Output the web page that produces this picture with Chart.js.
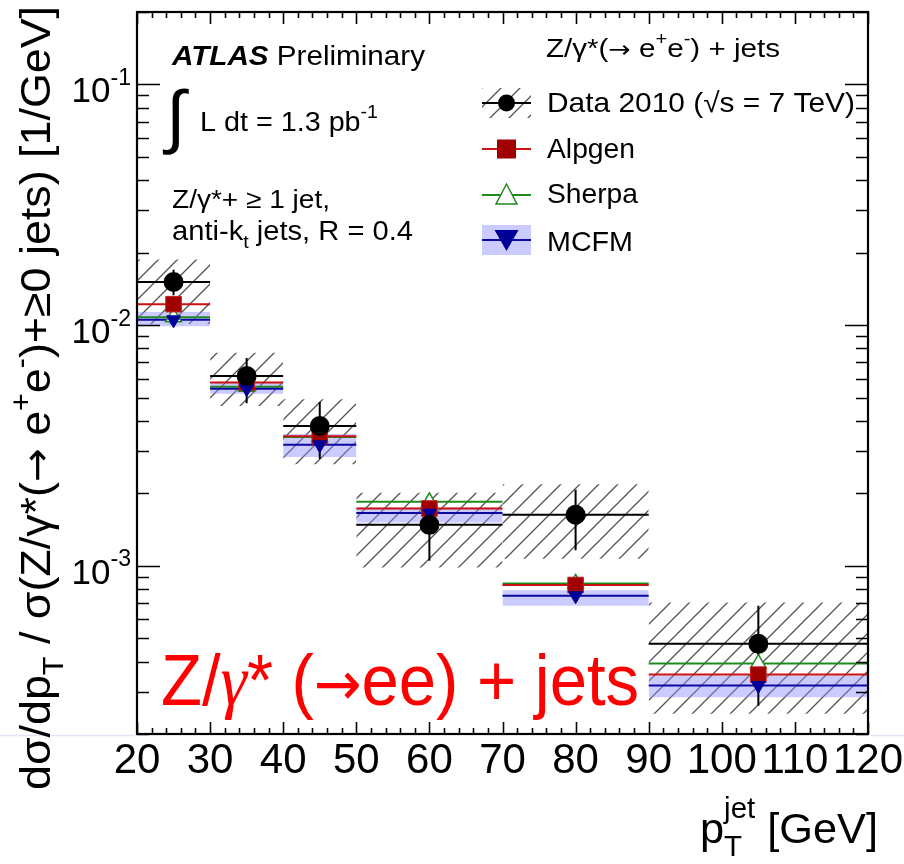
<!DOCTYPE html>
<html><head><meta charset="utf-8">
<script src="https://cdn.jsdelivr.net/npm/chart.js@4.4.1/dist/chart.umd.min.js"></script>
<style>html,body{margin:0;padding:0;background:#fff;}canvas{display:block;}</style>
</head><body>
<canvas id="c" width="904" height="864" style="width:904px;height:864px"></canvas>
<script>
// ---------------- data ----------------
const binLo     = [20, 30, 40, 50, 70, 90];
const binHi     = [30, 40, 50, 70, 90, 120];
const binCenter = [25, 35, 45, 60, 80, 105];

const dataVal    = [0.0151, 0.00614, 0.00381, 0.00148, 0.00163, 0.000474];
const dataStatLo = [0.0133, 0.00474, 0.00278, 0.00105, 0.00116, 0.000262];
const dataStatHi = [0.0170, 0.00730, 0.00479, 0.00199, 0.00207, 0.000683];
const dataSysLo  = [0.0101, 0.00461, 0.00264, 0.000984, 0.00107, 0.000243];
const dataSysHi  = [0.01875, 0.00767, 0.00492, 0.00201, 0.00218, 0.000704];

const alpgenVal = [0.01222, 0.00577, 0.00345, 0.00173, 0.000832, 0.000353];
const sherpaVal = [0.01079, 0.00555, 0.00343, 0.001845, 0.000845, 0.000393];
const mcfmVal   = [0.01052, 0.00544, 0.00318, 0.001655, 0.000751, 0.000318];
const mcfmLo    = [0.0099, 0.00518, 0.00283, 0.001514, 0.000682, 0.000284];
const mcfmHi    = [0.01135, 0.00580, 0.00353, 0.001746, 0.000792, 0.000350];

const xTickValues = [20, 30, 40, 50, 60, 70, 80, 90, 100, 110, 120];
const xTickLabels = ['20','30','40','50','60','70','80','90','100','110','120'];
const yTickExponents = [-1, -2, -3];
const xMin = 20, xMax = 120, yMin = 2e-4, yMax = 0.2;

const legendLabels = ['Data 2010 (\u221As = 7 TeV)', 'Alpgen', 'Sherpa', 'MCFM'];

// ---------------- styles ----------------
const FAM = '"Liberation Sans", Arial, Helvetica, sans-serif';
const ARW = '"DejaVu Sans", sans-serif';
const C_DATA = '#000000', C_ALP = '#cc1111', C_ALP_M = '#a00000', C_SHE = '#1f8a1f', C_MCF = '#0a0aa0', C_BAND = 'rgba(140,140,255,0.45)';

const canvas = document.getElementById('c');
const ctx0 = canvas.getContext('2d');
function makeHatch(){
  const s = 19, c = document.createElement('canvas'); c.width = s; c.height = s;
  const g = c.getContext('2d');
  g.strokeStyle = 'rgba(40,40,40,0.8)'; g.lineWidth = 1.3;
  g.beginPath();
  g.moveTo(0, s); g.lineTo(s, 0);
  g.moveTo(-3, 3); g.lineTo(3, -3);
  g.moveTo(s-3, s+3); g.lineTo(s+3, s-3);
  g.stroke();
  return ctx0.createPattern(c, 'repeat');
}
const hatch = makeHatch();

function stepData(vals){
  const d = [];
  for (let i = 0; i < vals.length; i++){
    d.push({x: binLo[i], y: vals[i]}, {x: binHi[i], y: vals[i]}, {x: binHi[i], y: null});
  }
  return d;
}
function vbarData(lo, hi){
  const d = [];
  for (let i = 0; i < lo.length; i++) d.push({x: binCenter[i], y: lo[i]}, {x: binCenter[i], y: hi[i]}, {x: binCenter[i], y: null});
  return d;
}
function pointData(vals){ return vals.map((v, i) => ({x: binCenter[i], y: v})); }

const datasets = [];
for (let i = 0; i < binLo.length; i++){
  datasets.push({label: 'sysHi' + i, data: [{x: binLo[i], y: dataSysHi[i]}, {x: binHi[i], y: dataSysHi[i]}],
    borderWidth: 0, borderColor: 'rgba(0,0,0,0)', pointRadius: 0, fill: '+1', backgroundColor: hatch, order: 50});
  datasets.push({label: 'sysLo' + i, data: [{x: binLo[i], y: dataSysLo[i]}, {x: binHi[i], y: dataSysLo[i]}],
    borderWidth: 0, borderColor: 'rgba(0,0,0,0)', pointRadius: 0, fill: false, order: 50});
}
for (let i = 0; i < binLo.length; i++){
  datasets.push({label: 'mcfmHi' + i, data: [{x: binLo[i], y: mcfmHi[i]}, {x: binHi[i], y: mcfmHi[i]}],
    borderWidth: 0, borderColor: 'rgba(0,0,0,0)', pointRadius: 0, fill: '+1', backgroundColor: C_BAND, order: 45});
  datasets.push({label: 'mcfmLo' + i, data: [{x: binLo[i], y: mcfmLo[i]}, {x: binHi[i], y: mcfmLo[i]}],
    borderWidth: 0, borderColor: 'rgba(0,0,0,0)', pointRadius: 0, fill: false, order: 45});
}
datasets.push({label: 'Sherpa line', data: stepData(sherpaVal), borderColor: C_SHE, borderWidth: 2, pointRadius: 0, fill: false, spanGaps: false, order: 30});
datasets.push({label: 'Alpgen line', data: stepData(alpgenVal), borderColor: C_ALP, borderWidth: 2, pointRadius: 0, fill: false, spanGaps: false, order: 29});
datasets.push({label: 'MCFM line', data: stepData(mcfmVal), borderColor: C_MCF, borderWidth: 2, pointRadius: 0, fill: false, spanGaps: false, order: 28});
datasets.push({label: 'Data xerr', data: stepData(dataVal), borderColor: C_DATA, borderWidth: 2, pointRadius: 0, fill: false, spanGaps: false, order: 27});
datasets.push({label: 'Data stat', data: vbarData(dataStatLo, dataStatHi), borderColor: C_DATA, borderWidth: 2, pointRadius: 0, fill: false, spanGaps: false, order: 26});
datasets.push({label: 'Sherpa', data: pointData(sherpaVal), showLine: false, pointStyle: 'triangle', pointRadius: 9,
  pointBackgroundColor: '#ffffff', pointBorderColor: C_SHE, pointBorderWidth: 1.5, order: 25});
datasets.push({label: 'Alpgen', data: pointData(alpgenVal), showLine: false, pointStyle: 'rect', pointRadius: 11,
  pointBackgroundColor: C_ALP_M, pointBorderColor: '#c02020', pointBorderWidth: 1, order: 24});
datasets.push({label: 'MCFM', data: pointData(mcfmVal), showLine: false, pointStyle: 'triangle', pointRotation: 180, pointRadius: 8,
  pointBackgroundColor: '#000099', pointBorderColor: '#000099', pointBorderWidth: 1, order: 23});
datasets.push({label: 'Data', data: pointData(dataVal), showLine: false, pointStyle: 'circle', pointRadius: 10,
  pointBackgroundColor: '#000', pointBorderColor: '#000', pointBorderWidth: 0, order: 0});

// ---------------- rich text helpers ----------------
function fontFor(s, size){
  const sz = (s.m === 'b' || s.m === 'p') ? size * (s.r || 0.68) : size * (s.k || 1);
  return (s.st ? s.st + ' ' : '') + sz.toFixed(1) + 'px ' + (s.fam || FAM);
}
function richWidth(ctx, segs, size){
  let w = 0, pend = null;
  for (const s of segs){
    ctx.font = fontFor(s, size);
    const sw = ctx.measureText(s.t).width;
    if (s.stack){ pend = sw; continue; }
    if (pend !== null){ w += Math.max(pend, sw); pend = null; } else w += sw;
  }
  return w;
}
function drawRich(ctx, segs, x, y, size, opt){
  opt = opt || {};
  ctx.save();
  const w = richWidth(ctx, segs, size);
  const sx = opt.fit ? opt.fit / w : 1;
  const W = w * sx;
  let x0 = x;
  if (opt.align === 'right') x0 = x - W; else if (opt.align === 'center') x0 = x - W / 2;
  ctx.translate(x0, y); ctx.scale(sx, 1);
  ctx.fillStyle = opt.color || '#000'; ctx.textBaseline = 'alphabetic'; ctx.textAlign = 'left';
  let cx = 0, pend = null;
  for (const s of segs){
    ctx.font = fontFor(s, size);
    const dy = s.m === 'b' ? size * (s.dy || 0.3) : s.m === 'p' ? -size * (s.dy || 0.45) : (s.oy ? s.oy * size : 0);
    ctx.fillText(s.t, cx, dy);
    const sw = ctx.measureText(s.t).width;
    if (s.stack){ pend = sw; continue; }
    if (pend !== null){ cx += Math.max(pend, sw); pend = null; } else cx += sw;
  }
  ctx.restore();
}

// ---------------- plugins ----------------
const framePlugin = {
  id: 'frame',
  afterDatasetsDraw(chart){
    const {ctx, chartArea: a, scales: {x, y}} = chart;
    ctx.save();
    ctx.strokeStyle = '#000'; ctx.lineWidth = 1.6;
    ctx.beginPath();
    for (let v = xMin; v <= xMax + 1e-9; v += 2){
      const px = Math.round(x.getPixelForValue(v)) + 0.5;
      const L = (v % 10 === 0) ? 12 : 6;
      ctx.moveTo(px, a.bottom); ctx.lineTo(px, a.bottom - L);
      ctx.moveTo(px, a.top); ctx.lineTo(px, a.top + L);
    }
    for (let e = -4; e <= -1; e++){
      for (let m = 1; m <= 9; m++){
        const v = m * Math.pow(10, e);
        if (v < yMin * 0.999 || v > yMax * 1.001) continue;
        const py = Math.round(y.getPixelForValue(v)) + 0.5;
        const L = m === 1 ? 23 : 12;
        ctx.moveTo(a.left, py); ctx.lineTo(a.left + L, py);
        ctx.moveTo(a.right, py); ctx.lineTo(a.right - L, py);
      }
    }
    ctx.stroke();
    ctx.lineWidth = 2.2;
    ctx.strokeRect(a.left, a.top, a.right - a.left, a.bottom - a.top);
    ctx.restore();
  },
  afterDraw(chart){
    const {ctx, chartArea: a, scales: {x, y}} = chart;
    ctx.save();
    // faint slide line
    ctx.strokeStyle = 'rgba(200,200,240,0.5)'; ctx.lineWidth = 1.5;
    ctx.beginPath(); ctx.moveTo(0, 735.5); ctx.lineTo(a.left - 2, 735.5); ctx.moveTo(a.right + 3, 735.5); ctx.lineTo(904, 735.5); ctx.stroke();

    // x tick labels
    ctx.fillStyle = '#000'; ctx.textAlign = 'center'; ctx.textBaseline = 'alphabetic';
    ctx.font = '42px ' + FAM;
    xTickValues.forEach((v, i) => ctx.fillText(xTickLabels[i], x.getPixelForValue(v), 773));
    // y tick labels
    yTickExponents.forEach(e => {
      const py = y.getPixelForValue(Math.pow(10, e));
      drawRich(ctx, [{t: '10'}, {t: String(e), m: 'p', r: 0.66, dy: 0.5}], 131, py + 18, 35, {align: 'right'});
    });
    // y title
    ctx.save();
    ctx.translate(50, 790); ctx.rotate(-Math.PI / 2);
    drawRich(ctx, [{t: 'd\u03C3/dp'}, {t: 'T', m: 'b'}, {t: ' / \u03C3(Z/\u03B3*('}, {t: '\u2192', fam: ARW, k: 0.9}, {t: ' e'}, {t: '+', m: 'p'}, {t: 'e'}, {t: '-', m: 'p'},
      {t: ')+\u22650 jets) [1/GeV]'}], 0, 0, 43, {fit: 784});
    ctx.restore();
    // x title
    drawRich(ctx, [{t: 'p'}, {t: 'T', m: 'b', stack: true, dy: 0.32}, {t: 'jet', m: 'p', dy: 0.6}, {t: ' [GeV]'}], 700, 843, 42, {fit: 178});

    // ATLAS block
    drawRich(ctx, [{t: 'ATLAS', st: 'italic bold'}, {t: ' Preliminary'}], 172, 65, 28, {fit: 253});
    ctx.fillStyle = '#000'; ctx.textAlign = 'left';
    ctx.font = '70px ' + FAM;
    ctx.fillText('\u222B', 166, 140);
    drawRich(ctx, [{t: 'L dt = 1.3 pb'}, {t: '-1', m: 'p', dy: 0.5}], 200, 131, 27, {fit: 178});
    drawRich(ctx, [{t: 'Z/\u03B3*+ \u2265 1 jet,'}], 172, 208, 26, {fit: 158});
    drawRich(ctx, [{t: 'anti-k'}, {t: 't', m: 'b'}, {t: ' jets, R = 0.4'}], 172, 240, 27, {fit: 241});

    // legend
    drawRich(ctx, [{t: 'Z/\u03B3*('}, {t: '\u2192', fam: ARW, k: 0.9}, {t: ' e'}, {t: '+', m: 'p'}, {t: 'e'}, {t: '-', m: 'p'}, {t: ') + jets'}], 546, 57, 26, {fit: 234});
    const lx0 = 482, lx1 = 531, lxc = 506.5;
    const rows = [103, 149, 195, 240];
    const bases = [112, 158, 203, 251];
    // data row
    ctx.fillStyle = hatch; ctx.fillRect(lx0, rows[0] - 15, lx1 - lx0, 30);
    ctx.strokeStyle = '#000'; ctx.lineWidth = 2;
    ctx.beginPath(); ctx.moveTo(lx0, rows[0]); ctx.lineTo(lx1, rows[0]); ctx.stroke();
    ctx.fillStyle = '#000'; ctx.beginPath(); ctx.arc(lxc, rows[0], 8.5, 0, Math.PI * 2); ctx.fill();
    // alpgen
    ctx.strokeStyle = C_ALP; ctx.beginPath(); ctx.moveTo(lx0, rows[1]); ctx.lineTo(lx1, rows[1]); ctx.stroke();
    ctx.fillStyle = C_ALP_M; ctx.fillRect(lxc - 9.5, rows[1] - 9.5, 19, 19);
    // sherpa
    ctx.strokeStyle = C_SHE; ctx.beginPath(); ctx.moveTo(lx0, rows[2]); ctx.lineTo(lx1, rows[2]); ctx.stroke();
    ctx.fillStyle = '#fff'; ctx.lineWidth = 1.5;
    ctx.beginPath(); ctx.moveTo(lxc, rows[2] - 11); ctx.lineTo(lxc + 10.5, rows[2] + 9); ctx.lineTo(lxc - 10.5, rows[2] + 9); ctx.closePath(); ctx.fill(); ctx.stroke();
    // mcfm
    ctx.fillStyle = C_BAND; ctx.fillRect(lx0, rows[3] - 15, lx1 - lx0, 30);
    ctx.strokeStyle = C_MCF; ctx.lineWidth = 2; ctx.beginPath(); ctx.moveTo(lx0, rows[3]); ctx.lineTo(lx1, rows[3]); ctx.stroke();
    ctx.fillStyle = '#000099';
    ctx.beginPath(); ctx.moveTo(lxc - 12, rows[3] - 10); ctx.lineTo(lxc + 12, rows[3] - 10); ctx.lineTo(lxc, rows[3] + 11); ctx.closePath(); ctx.fill();
    const fits = [308, 88, 91, 86];
    legendLabels.forEach((t, i) => {
      drawRich(ctx, [{t: t}], 547, bases[i], 28, {fit: fits[i]});
    });

    // red overlay text
    const RF = '"Liberation Sans", Arial, sans-serif';
    drawRich(ctx, [
      {t: 'Z/', fam: RF},
      {t: '\u03B3', fam: '"Liberation Serif", serif', st: 'italic'},
      {t: '* (', fam: RF},
      {t: '\u2192', fam: ARW, k: 0.85},
      {t: 'ee) + jets', fam: RF}
    ], 161, 705, 72, {fit: 478, color: '#ff0000'});
    ctx.restore();
  }
};

new Chart(canvas, {
  type: 'line',
  data: {datasets},
  options: {
    responsive: false, animation: false, devicePixelRatio: 1,
    layout: {padding: {left: 137, top: 12, right: 36, bottom: 130}},
    plugins: {legend: {display: false}, tooltip: {enabled: false}, filler: {propagate: false}},
    elements: {line: {tension: 0}},
    scales: {
      x: {type: 'linear', min: xMin, max: xMax, display: false},
      y: {type: 'logarithmic', min: yMin, max: yMax, display: false}
    }
  },
  plugins: [framePlugin]
});
</script>
</body></html>
